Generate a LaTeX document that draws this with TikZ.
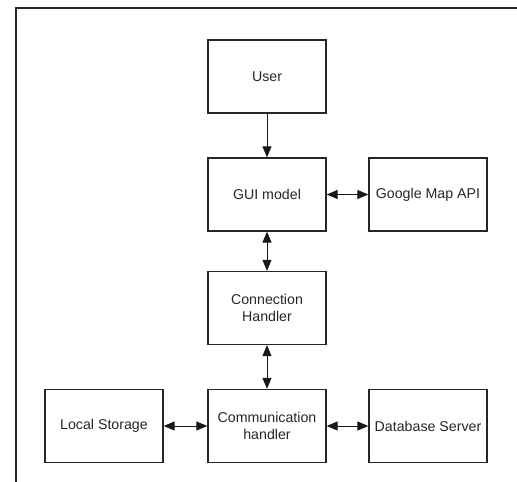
\documentclass[tikz,border=0pt]{standalone}
\usepackage{fontspec}
\setmainfont{Liberation Sans}
\usetikzlibrary{arrows.meta}
\begin{document}
\begin{tikzpicture}[x=1pt,y=-1pt,
  box/.style={draw=black!85,line width=1.3pt,minimum width=118pt,minimum height=73pt,
    inner sep=0pt,align=center,font=\fontsize{14.2}{17}\selectfont,text=black!85},
  conn/.style={line width=1pt,draw=black!90,-{Triangle[length=11pt,width=9pt]}},
  dconn/.style={line width=1pt,draw=black!90,{Triangle[length=11pt,width=9pt]}-{Triangle[length=11pt,width=9pt]}}]
\useasboundingbox (0,0) rectangle (517,482);
\draw[line width=1.5pt,black!85] (16,490) coordinate (fbl) -- (16,8) coordinate (ftl) -- (520,8) coordinate (ftr);
\node[box] (user) at (267,76.5) {User};
\node[box] (gui) at (267,194.5) {GUI model};
\node[box] (gmap) at (428,194.5) {Google Map API};
\node[box] (ch) at (267,308) {Connection\\Handler};
\node[box] (comm) at (267,426) {Communication\\handler};
\node[box] (local) at (104,426) {Local Storage};
\node[box] (db) at (428,426) {Database Server};
\draw[conn] (user) -- (gui);
\draw[dconn] (gui) -- (gmap);
\draw[dconn] (gui) -- (ch);
\draw[dconn] (ch) -- (comm);
\draw[dconn] (local) -- (comm);
\draw[dconn] (comm) -- (db);
\end{tikzpicture}
\end{document}
